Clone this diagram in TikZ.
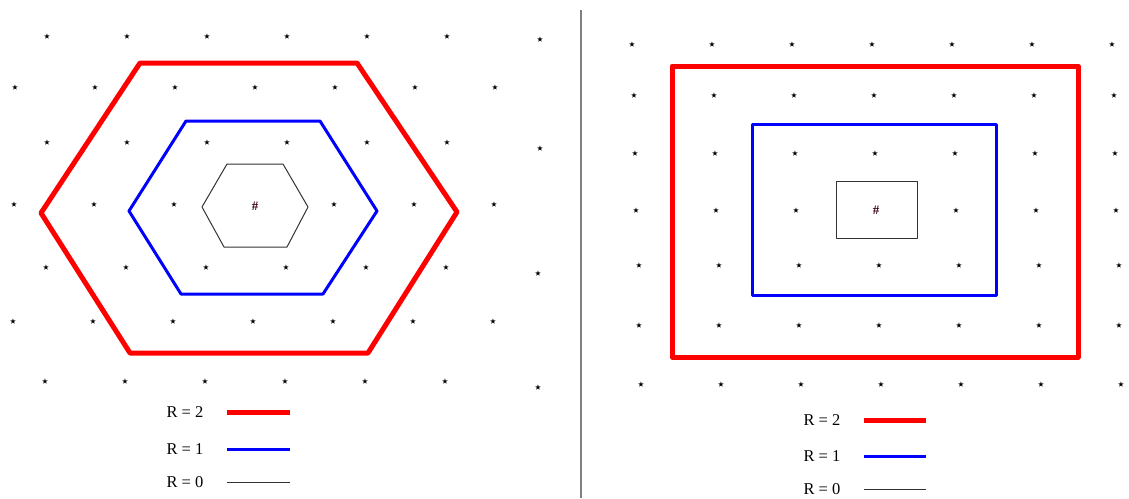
\documentclass[tikz,border=0pt]{standalone}
\usepackage{amssymb}
\usepackage{fontspec}
\setmainfont{Liberation Serif}
\begin{document}
\begin{tikzpicture}[x=1pt,y=-1pt,
  pt/.style={inner sep=0pt,font=\fontsize{6.5}{6.5}\selectfont},
  centre/.style={inner sep=0pt,font=\fontsize{13}{13}\selectfont\bfseries,text=black!70!purple},
  lbl/.style={inner sep=0pt,font=\fontsize{16.5}{16.5}\selectfont},
  rtwo/.style={draw=red,line width=5pt,line join=round},
  rone/.style={draw=blue,line width=3pt,line join=round},
  rzero/.style={draw=black!80,line width=1pt,line join=round}]
\useasboundingbox (0,0) rectangle (1129,498);
% divider
\coordinate (dtop) at (581,10);
\coordinate (dbot) at (581,498);
\draw[gray,line width=1.5pt] (dtop) -- (dbot);
% ---------- left panel stars ----------
\foreach \yy/\xs/\nn [count=\r] in {37/47/5,88/15/6,143/47/5,268/46/5,322/13/6,382/45/5}
  \foreach \k in {0,...,\nn}
    \node[pt] (L\r-\k) at ({\xs+80*\k},\yy) {$\bigstar$};
\foreach \k in {0,1,2,4,5,6}
  \node[pt] (L7-\k) at ({14+80*\k},205) {$\bigstar$};
\node[pt] (Le1) at (540,40) {$\bigstar$};
\node[pt] (Le2) at (540,149) {$\bigstar$};
\node[pt] (Le3) at (538,274) {$\bigstar$};
\node[pt] (Le4) at (538,388) {$\bigstar$};
\node[centre] (Lc) at (255,206) {\#};
% hexagons
\draw[rtwo] (140,63) -- (357,63) -- (457,212) -- (368,353) -- (130,353) -- (41,213) -- cycle;
\draw[rone] (186,121) -- (320,121) -- (377,211) -- (323,294) -- (181,294) -- (129,211) -- cycle;
\draw[rzero] (227,164) -- (283,164) -- (308,207) -- (287,247) -- (224,247) -- (202,207) -- cycle;
% left legend
\node[lbl] (Ll2) at (185,412) {R = 2};
\node[lbl] (Ll1) at (185,449) {R = 1};
\node[lbl] (Ll0) at (185,482) {R = 0};
\coordinate (La2) at (227,412); \coordinate (Lb2) at (290,412);
\coordinate (La1) at (227,449); \coordinate (Lb1) at (290,449);
\coordinate (La0) at (227,482); \coordinate (Lb0) at (290,482);
\draw[rtwo] (La2) -- (Lb2);
\draw[rone] (La1) -- (Lb1);
\draw[rzero] (La0) -- (Lb0);
% ---------- right panel stars ----------
\foreach \yy/\xs [count=\r] in {45/632,96/634,154/635,266/639,326/639,385/641}
  \foreach \k in {0,...,6}
    \node[pt] (R\r-\k) at ({\xs+80*\k},\yy) {$\bigstar$};
\foreach \k in {0,1,2,4,5,6}
  \node[pt] (R7-\k) at ({636+80*\k},211) {$\bigstar$};
\node[centre] (Rc) at (876,210) {\#};
% rectangles
\draw[rtwo] (672,66) rectangle (1078,357);
\draw[rone] (752,124) rectangle (996,295);
\draw[rzero] (836,181) rectangle (917,238);
% right legend
\node[lbl] (Rl2) at (822,420) {R = 2};
\node[lbl] (Rl1) at (822,456) {R = 1};
\node[lbl] (Rl0) at (822,489) {R = 0};
\coordinate (Ra2) at (864,420); \coordinate (Rb2) at (926,420);
\coordinate (Ra1) at (864,456); \coordinate (Rb1) at (926,456);
\coordinate (Ra0) at (864,489); \coordinate (Rb0) at (926,489);
\draw[rtwo] (Ra2) -- (Rb2);
\draw[rone] (Ra1) -- (Rb1);
\draw[rzero] (Ra0) -- (Rb0);
\end{tikzpicture}
\end{document}
